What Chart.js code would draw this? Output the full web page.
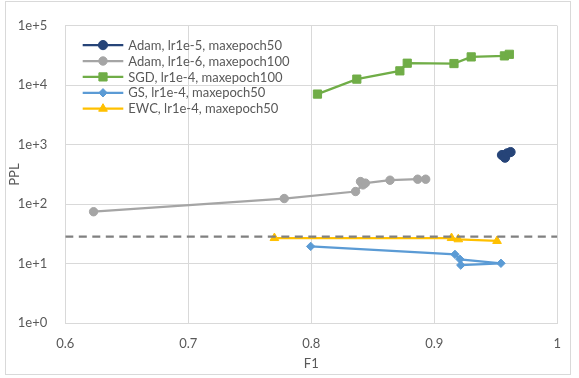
<!DOCTYPE html>
<html>
<head>
<meta charset="utf-8">
<script src="https://cdn.jsdelivr.net/npm/chart.js@4.4.1/dist/chart.umd.min.js"></script>
<style>
  html, body { margin: 0; padding: 0; background: #ffffff; }
  #wrap { position: relative; width: 579px; height: 378px; }
  #frame { position: absolute; left: 5px; top: 1px; width: 566px; height: 374px;
           border: 1px solid #d9d9d9; box-sizing: border-box; pointer-events: none; }
  canvas { position: absolute; left: 0; top: 0; }
</style>
</head>
<body>
<div id="wrap">
  <canvas id="c" width="579" height="378"></canvas>
  <div id="frame"></div>
</div>
<script>
// ---- data ----
const seriesNames = [
  'Adam, lr1e-5, maxepoch50',
  'Adam, lr1e-6, maxepoch100',
  'SGD, lr1e-4, maxepoch100',
  'GS, lr1e-4, maxepoch50',
  'EWC, lr1e-4, maxepoch50'
];
const adam5F1  = [0.955, 0.9575, 0.9593, 0.962];
const adam5PPL = [673, 607, 719, 755];

const adam6F1  = [0.623, 0.778, 0.836, 0.842, 0.840, 0.844, 0.864, 0.8865, 0.893];
const adam6PPL = [75, 125, 164, 212, 241, 227, 254, 264, 264];

const sgdF1  = [0.805, 0.837, 0.872, 0.878, 0.916, 0.930, 0.957, 0.961];
const sgdPPL = [7120, 12700, 17500, 23500, 23200, 30000, 31200, 33200];

const gsF1  = [0.7995, 0.9168, 0.9209, 0.9542, 0.9215];
const gsPPL = [19.6, 14.4, 11.9, 10.2, 9.5];

const ewcF1  = [0.770, 0.914, 0.9195, 0.951];
const ewcPPL = [27.1, 27.1, 25.8, 24.2];

const refF1  = [0.6, 1.0];
const refPPL = [28.7, 28.7];

const xTickValues = [0.6, 0.7, 0.8, 0.9, 1.0];
const xTickLabels = ['0.6', '0.7', '0.8', '0.9', '1'];
const yTickValues = [1, 10, 100, 1000, 10000, 100000];
const yTickLabels = ['1e+0', '1e+1', '1e+2', '1e+3', '1e+4', '1e+5'];

const xTitle = 'F1';
const yTitle = 'PPL';

// ---- styles ----
const colors = ['#264478', '#a5a5a5', '#70ad47', '#5b9bd5', '#ffc000'];
const styles = ['circle', 'circle', 'rect', 'rectRot', 'triangle'];
const radii  = [4.6, 4.2, 5.8, 4.2, 5.0];

function pts(xs, ys) { return xs.map((x, i) => ({ x: x, y: ys[i] })); }

const seriesData = [
  pts(adam5F1, adam5PPL),
  pts(adam6F1, adam6PPL),
  pts(sgdF1, sgdPPL),
  pts(gsF1, gsPPL),
  pts(ewcF1, ewcPPL)
];

const datasets = seriesData.map((d, i) => ({
  label: seriesNames[i],
  data: d,
  showLine: true,
  borderColor: colors[i],
  backgroundColor: colors[i],
  borderWidth: 2.25,
  pointStyle: styles[i],
  pointRadius: radii[i],
  pointHoverRadius: radii[i],
  pointBorderWidth: 1,
  pointBorderColor: colors[i],
  pointBackgroundColor: colors[i],
  tension: 0,
  order: 5 - i
}));
datasets.push({
  label: 'ref',
  isRef: true,
  data: pts(refF1, refPPL),
  showLine: true,
  borderColor: '#808080',
  borderWidth: 2.25,
  borderDash: [8, 5.5],
  pointRadius: 0,
  order: -1
});

const FONT = 'Lato, "Liberation Sans", sans-serif';
const TEXT = '#595959';

function drawMarker(ctx, style, x, y, r, color) {
  ctx.save();
  ctx.fillStyle = color;
  ctx.strokeStyle = color;
  ctx.lineWidth = 1;
  ctx.beginPath();
  if (style === 'circle') {
    ctx.arc(x, y, r, 0, Math.PI * 2);
  } else if (style === 'rect') {
    const s = r * Math.SQRT1_2;
    ctx.rect(x - s, y - s, 2 * s, 2 * s);
  } else if (style === 'rectRot') {
    ctx.moveTo(x, y - r); ctx.lineTo(x + r, y); ctx.lineTo(x, y + r); ctx.lineTo(x - r, y);
    ctx.closePath();
  } else if (style === 'triangle') {
    ctx.moveTo(x, y - r);
    ctx.lineTo(x + r * 0.866, y + r * 0.5);
    ctx.lineTo(x - r * 0.866, y + r * 0.5);
    ctx.closePath();
  }
  ctx.fill();
  ctx.stroke();
  ctx.restore();
}

const insideLegend = {
  id: 'insideLegend',
  afterDraw(chart) {
    const ctx = chart.ctx;
    const ca = chart.chartArea;
    ctx.save();
    ctx.font = '13px ' + FONT;
    ctx.textBaseline = 'middle';
    ctx.textAlign = 'left';
    chart.data.datasets.filter(d => !d.isRef).forEach((ds, i) => {
      const y = ca.top + 19.3 + i * 15.9;
      const x0 = ca.left + 17.4;
      ctx.strokeStyle = ds.borderColor;
      ctx.lineWidth = 2.25;
      ctx.beginPath();
      ctx.moveTo(x0, y);
      ctx.lineTo(x0 + 40.6, y);
      ctx.stroke();
      drawMarker(ctx, ds.pointStyle, x0 + 20.3, y, ds.pointRadius, ds.borderColor);
      ctx.fillStyle = TEXT;
      ctx.fillText(ds.label, x0 + 45.6, y + 0.5);
    });
    ctx.restore();
  }
};

const bgPlugin = {
  id: 'bg',
  beforeDraw(chart) {
    const ctx = chart.ctx;
    ctx.save();
    ctx.fillStyle = '#ffffff';
    ctx.fillRect(0, 0, chart.width, chart.height);
    ctx.restore();
  }
};

new Chart(document.getElementById('c'), {
  type: 'scatter',
  data: { datasets: datasets },
  options: {
    responsive: false,
    animation: false,
    layout: { padding: { left: 0, top: 24, right: 21.7, bottom: 0 } },
    plugins: { legend: { display: false }, tooltip: { enabled: false } },
    scales: {
      x: {
        type: 'linear',
        min: 0.6, max: 1.0,
        afterBuildTicks(scale) { scale.ticks = xTickValues.map(v => ({ value: v })); },
        afterFit(scale) { scale.height = 54.7; },
        ticks: {
          callback: (v, i) => xTickLabels[i],
          color: TEXT,
          font: { family: FONT, size: 13 },
          padding: 13,
          maxRotation: 0
        },
        grid: { color: '#d9d9d9', lineWidth: 1, drawTicks: false },
        border: { color: '#d9d9d9', width: 1 },
        title: { display: true, text: xTitle, color: TEXT, font: { family: FONT, size: 13 }, padding: { top: 0, bottom: 6 } }
      },
      y: {
        type: 'logarithmic',
        min: 1, max: 100000,
        afterBuildTicks(scale) { scale.ticks = yTickValues.map(v => ({ value: v })); },
        afterFit(scale) { scale.width = 65.3; },
        ticks: {
          callback: (v, i) => yTickLabels[i],
          color: TEXT,
          font: { family: FONT, size: 13 },
          padding: 18
        },
        grid: { color: '#d9d9d9', lineWidth: 1, drawTicks: false },
        border: { color: '#d9d9d9', width: 1 },
        title: { display: true, text: yTitle, color: TEXT, font: { family: FONT, size: 13 }, padding: { top: 7, bottom: 0 } }
      }
    }
  },
  plugins: [bgPlugin, insideLegend]
});
</script>
</body>
</html>
